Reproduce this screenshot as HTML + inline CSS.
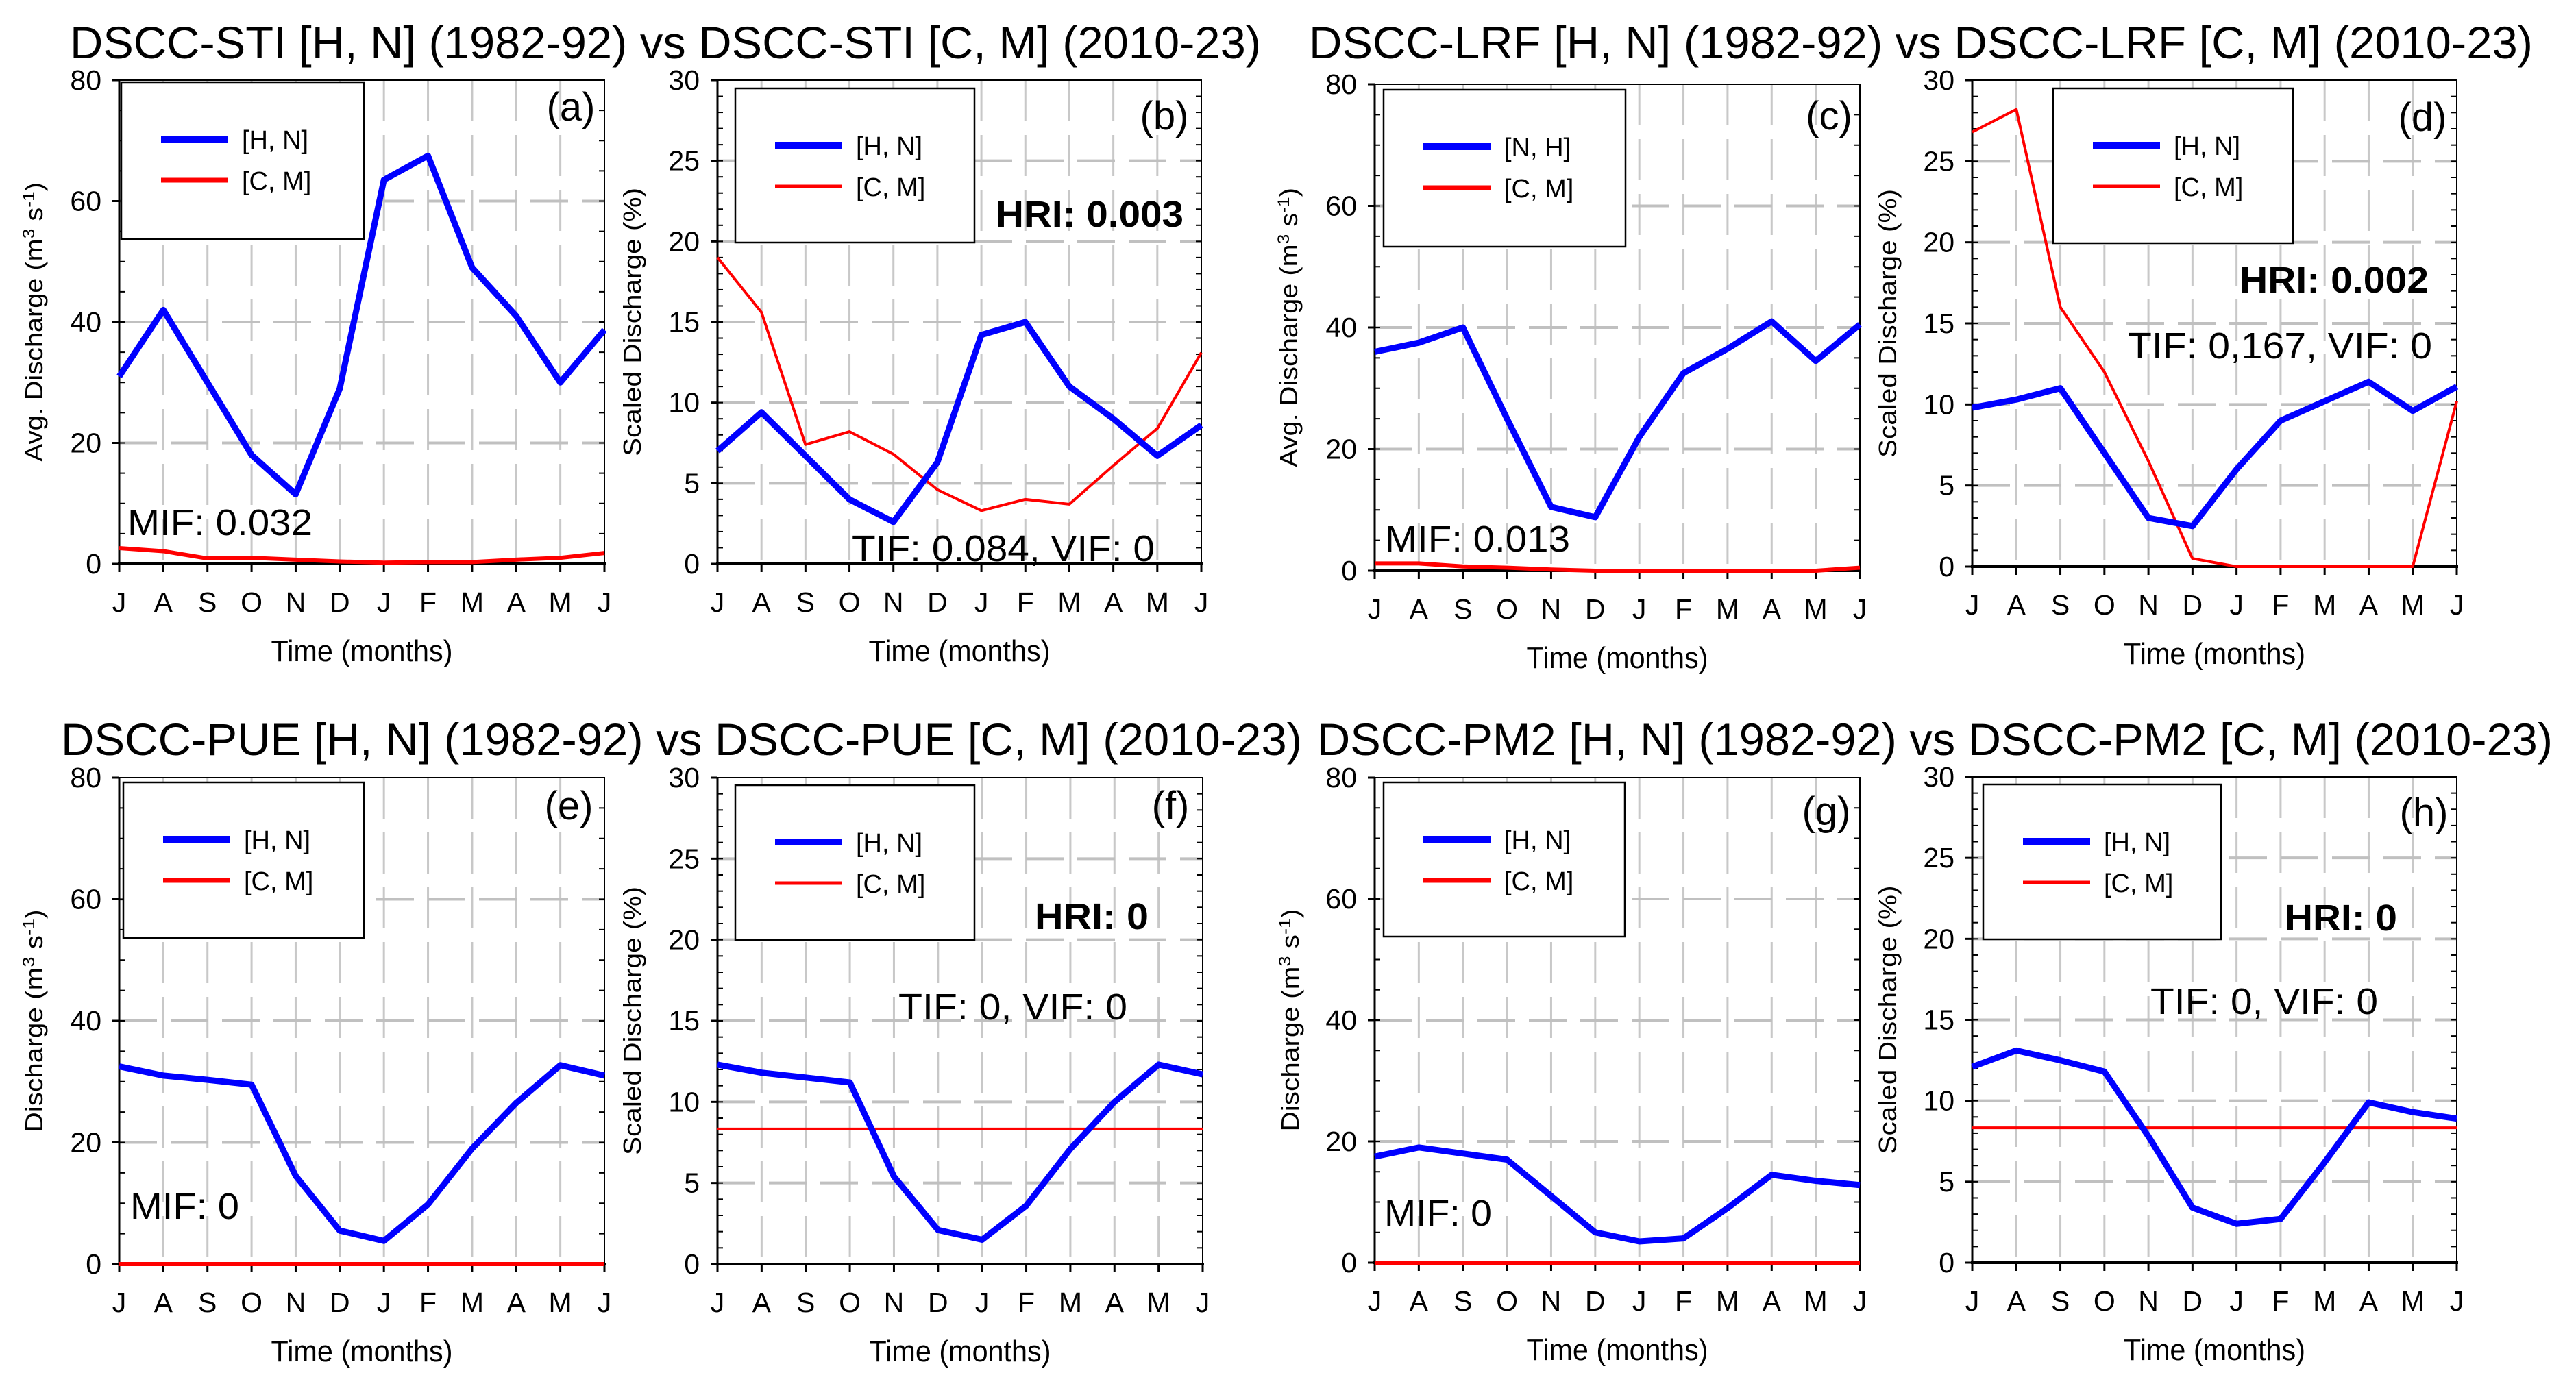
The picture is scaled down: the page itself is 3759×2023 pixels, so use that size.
<!DOCTYPE html>
<html><head><meta charset="utf-8"><style>
html,body{margin:0;padding:0;background:#fff;}
svg{display:block;}
text{font-family:"Liberation Sans Narrow","Liberation Sans",sans-serif;fill:#000;}
.yl{font-family:"Liberation Sans",sans-serif;}
</style></head><body>
<svg id="fig" width="3759" height="2023" viewBox="0 0 3759 2023" xmlns="http://www.w3.org/2000/svg"></svg>
<script>
const months = ["J","A","S","O","N","D","J","F","M","A","M","J"];
const ticksDischarge = [0,20,40,60,80];
const ticksScaled = [0,5,10,15,20,25,30];
const aBlue = [31,42,30,18,11.5,29,63.5,67.5,49,41,30,38.7];
const aRed = [2.6,2.1,0.9,1.0,0.7,0.4,0.2,0.3,0.3,0.7,1.0,1.8];
const bBlue = [7,9.4,6.7,4,2.6,6.3,14.2,15,11,9,6.7,8.6];
const bRed = [19,15.6,7.4,8.2,6.8,4.6,3.3,4,3.7,6.1,8.4,13.1];
const cBlue = [36,37.5,40,25,10.5,8.8,22,32.5,36.5,41,34.5,40.5];
const cRed = [1.2,1.2,0.7,0.5,0.2,0,0,0,0,0,0,0.5];
const dBlue = [9.8,10.3,11,7,3,2.5,6,9,10.2,11.4,9.6,11.1];
const dRed = [26.8,28.2,16,12,6.5,0.5,0,0,0,0,0,10.2];
const eBlue = [32.5,31,30.3,29.5,14.5,5.5,3.8,9.8,19,26.5,32.7,31];
const eRed = [0,0,0,0,0,0,0,0,0,0,0,0];
const fBlue = [12.3,11.8,11.5,11.2,5.4,2.1,1.5,3.6,7.1,10,12.3,11.7];
const fRed = [8.33,8.33,8.33,8.33,8.33,8.33,8.33,8.33,8.33,8.33,8.33,8.33];
const gBlue = [17.5,19,18,17,11,5,3.5,4,9,14.5,13.5,12.8];
const gRed = [0,0,0,0,0,0,0,0,0,0,0,0];
const hBlue = [12.1,13.1,12.5,11.8,7.8,3.4,2.4,2.7,6.2,9.9,9.3,8.9];
const hRed = [8.33,8.33,8.33,8.33,8.33,8.33,8.33,8.33,8.33,8.33,8.33,8.33];

const NS="http://www.w3.org/2000/svg";
const svg=document.getElementById('fig');
function el(tag,attrs,parent,txt){const e=document.createElementNS(NS,tag);for(const k in attrs)e.setAttribute(k,attrs[k]);if(txt!==undefined)e.textContent=txt;(parent||svg).appendChild(e);return e;}

function title(x1,x2,yb,t,name){
  const e=el('text',{x:x1,y:yb,'font-size':66,textLength:x2-x1,lengthAdjust:'spacingAndGlyphs'},svg,t);
  
  
}
title(102,1840,85,"DSCC-STI [H, N] (1982-92) vs DSCC-STI [C, M] (2010-23)","title-sti");
title(1910,3696,85,"DSCC-LRF [H, N] (1982-92) vs DSCC-LRF [C, M] (2010-23)","title-lrf");
title(89,1900,1102,"DSCC-PUE [H, N] (1982-92) vs DSCC-PUE [C, M] (2010-23)","title-pue");
title(1922,3725,1102,"DSCC-PM2 [H, N] (1982-92) vs DSCC-PM2 [C, M] (2010-23)","title-pm2");

function panel(p){
  const g=el('g',{});
  
  
  const {x0,x1,y0,y1}=p;
  const max=p.ticks[p.ticks.length-1];
  const X=i=>x0+(x1-x0)*i/(months.length-1);
  const Y=v=>y1-(y1-y0)*v/max;
  // grid
  months.forEach((m,i)=>{ if(i>0&&i<months.length-1){
    const l=el('line',{x1:X(i),x2:X(i),y1:y0,y2:y1,stroke:'#c8c8c8','stroke-width':3,'stroke-dasharray':'60,20'},g);
    
    
  }});
  p.ticks.forEach(t=>{ if(t>0&&t<max){
    const l=el('line',{x1:x0,x2:x1,y1:Y(t),y2:Y(t),stroke:'#c0c0c0','stroke-width':4,'stroke-dasharray':'55,20'},g);
    
    
  }});
  // minor ticks
  const minorStep=max/((p.ticks.length-1)*(max===30?5:4));
  for(let v=0;v<=max+1e-6;v+=minorStep){
    el('line',{x1:x0,x2:x0+8,y1:Y(v),y2:Y(v),stroke:'#000','stroke-width':2},g);
    el('line',{x1:x1,x2:x1-8,y1:Y(v),y2:Y(v),stroke:'#000','stroke-width':2},g);
  }
  // frame
  const fr=el('rect',{x:x0,y:y0,width:x1-x0,height:y1-y0,fill:'none',stroke:'#000','stroke-width':2},g);
  
  
  el('line',{x1:x0-2,x2:x1+2,y1:y1,y2:y1,stroke:'#000','stroke-width':4},g);
  el('line',{x1:x0,x2:x0,y1:y0,y2:y1,stroke:'#000','stroke-width':3},g);
  // y ticks
  p.ticks.forEach(t=>{
    el('line',{x1:x0-10,x2:x0,y1:Y(t),y2:Y(t),stroke:'#000','stroke-width':3},g);
    const tl=el('text',{x:x0-26,y:Y(t)+14,'font-size':41,'text-anchor':'end'},g,String(t));
    
    
  });
  // x ticks
  months.forEach((m,i)=>{
    el('line',{x1:X(i),x2:X(i),y1:y1,y2:y1+12,stroke:'#000','stroke-width':3},g);
    const tl=el('text',{x:X(i),y:y1+70,'font-size':41,'text-anchor':'middle'},g,m);
    
    
  });
  const xt=el('text',{x:(x0+x1)/2,y:y1+142,'font-size':44,'text-anchor':'middle',textLength:265,lengthAdjust:'spacingAndGlyphs'},g,'Time (months)');
  
  
  const cy=(y0+y1)/2;
  const yt=el('text',{class:'yl',x:0,y:0,'font-size':36,'text-anchor':'middle',textLength:p.ylen,lengthAdjust:'spacingAndGlyphs',transform:`translate(${p.ylx},${cy}) rotate(-90)`},g);
  
  
  if(p.ylab==='scaled'){yt.textContent='Scaled Discharge (%)';}
  else{
    el('tspan',{},yt,(p.ylab==='avg'?'Avg. ':'')+'Discharge (m');
    el('tspan',{dy:-12,'font-size':24},yt,'3');
    el('tspan',{dy:12},yt,' s');
    el('tspan',{dy:-12,'font-size':24},yt,'-1');
    el('tspan',{dy:12},yt,')');
  }
  // series
  const mk=(arr,col,w,name)=>{
    const pl=el('polyline',{points:arr.map((v,i)=>X(i)+','+Y(v)).join(' '),fill:'none',stroke:col,'stroke-width':w,'stroke-linejoin':'round'},g);
    
    
  };
  mk(p.red,'#ff0000',p.rw,'series-cm');
  mk(p.blue,'#0000ff',9,'series-hn');
  // legend
  const L=p.leg;
  const lg=el('g',{},g);
  
  
  el('rect',{x:L[0],y:L[1],width:L[2]-L[0],height:L[3]-L[1],fill:'#fff',stroke:'#000','stroke-width':2.5},lg);
  const lx=L[0]+58, ly1=L[1]+83, ly2=L[1]+143;
  el('line',{x1:lx,x2:lx+98,y1:ly1,y2:ly1,stroke:'#0000ff','stroke-width':10},lg);
  el('line',{x1:lx,x2:lx+98,y1:ly2,y2:ly2,stroke:'#ff0000','stroke-width':p.rw+1},lg);
  const e1=el('text',{x:lx+118,y:ly1+14,'font-size':38},lg,p.hnLabel||'[H, N]');
  
  
  const e2=el('text',{x:lx+118,y:ly2+14,'font-size':38},lg,'[C, M]');
  
  
  // panel letter
  const pl=el('text',{x:p.lab[0],y:p.lab[1]+20,'font-size':58,'text-anchor':'middle'},g,'('+p.id+')');
  
  
  // annotations
  p.ann.forEach(a=>{
    const t=el('text',{x:a[1],y:a[3]+19,'font-size':54,textLength:a[2]-a[1],lengthAdjust:'spacingAndGlyphs','font-weight':a[4]?'bold':'normal'},g,a[0]);
    
    
  });
}

panel({id:'a',x0:174,x1:882,y0:117,y1:823,ticks:ticksDischarge,blue:aBlue,red:aRed,rw:6,ylab:'avg',ylx:62,ylen:408,
  leg:[177,120,531,349],lab:[833,156],ann:[["MIF: 0.032",186,456,762]]});
panel({id:'b',x0:1047,x1:1753,y0:117,y1:823,ticks:ticksScaled,blue:bBlue,red:bRed,rw:4,ylab:'scaled',ylx:935,ylen:392,
  leg:[1073,129,1422,354],lab:[1699,169],ann:[["HRI: 0.003",1453,1727,312,true],["TIF: 0.084, VIF: 0",1243,1685,800]]});
panel({id:'c',x0:2006,x1:2714,y0:123,y1:833,ticks:ticksDischarge,blue:cBlue,red:cRed,rw:6,ylab:'avg',ylx:1893,ylen:408,hnLabel:'[N, H]',
  leg:[2019,131,2372,360],lab:[2669,169],ann:[["MIF: 0.013",2021,2291,786]]});
panel({id:'d',x0:2878,x1:3585,y0:117,y1:827,ticks:ticksScaled,blue:dBlue,red:dRed,rw:4,ylab:'scaled',ylx:2767,ylen:392,
  leg:[2996,129,3346,355],lab:[3535,171],ann:[["HRI: 0.002",3268,3544,408,true],["TIF: 0,167, VIF: 0",3105,3549,504]]});
panel({id:'e',x0:174,x1:882,y0:1135,y1:1845,ticks:ticksDischarge,blue:eBlue,red:eRed,rw:6,ylab:'dis',ylx:62,ylen:325,
  leg:[180,1142,531,1369],lab:[830,1176],ann:[["MIF: 0",190,349,1760]]});
panel({id:'f',x0:1047,x1:1755,y0:1135,y1:1845,ticks:ticksScaled,blue:fBlue,red:fRed,rw:4,ylab:'scaled',ylx:935,ylen:392,
  leg:[1073,1146,1422,1372],lab:[1708,1176],ann:[["HRI: 0",1510,1676,1337,true],["TIF: 0, VIF: 0",1311,1645,1469]]});
panel({id:'g',x0:2006,x1:2714,y0:1135,y1:1843,ticks:ticksDischarge,blue:gBlue,red:gRed,rw:6,ylab:'dis',ylx:1895,ylen:325,
  leg:[2019,1142,2371,1367],lab:[2665,1184],ann:[["MIF: 0",2020,2177,1770]]});
panel({id:'h',x0:2878,x1:3585,y0:1134,y1:1843,ticks:ticksScaled,blue:hBlue,red:hRed,rw:4,ylab:'scaled',ylx:2767,ylen:392,
  leg:[2894,1145,3241,1371],lab:[3537,1186],ann:[["HRI: 0",3334,3498,1339,true],["TIF: 0, VIF: 0",3138,3470,1461]]});
</script>
</body></html>
